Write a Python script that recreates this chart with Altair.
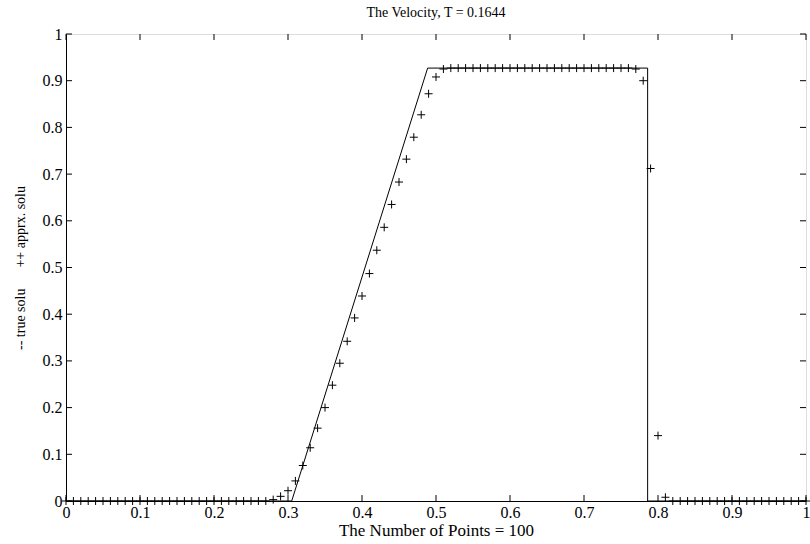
import altair as alt
import pandas as pd

# approximate solution (markers), x = 0, 0.01, ..., 1.00
approx_x = [round(i * 0.01, 2) for i in range(101)]
approx_y = [
    0.0, 0.0, 0.0, 0.0, 0.0, 0.0, 0.0, 0.0, 0.0, 0.0,
    0.0, 0.0, 0.0, 0.0, 0.0, 0.0, 0.0, 0.0, 0.0, 0.0,
    0.0, 0.0, 0.0, 0.0, 0.0, 0.0, 0.0, 0.0,
    0.003, 0.010, 0.022, 0.043, 0.076, 0.114, 0.156, 0.200, 0.248, 0.295,
    0.342, 0.392, 0.439, 0.487, 0.537, 0.586, 0.635, 0.683, 0.732, 0.779,
    0.827, 0.872, 0.908, 0.925,
    0.927, 0.927, 0.927, 0.927, 0.927, 0.927, 0.927, 0.927, 0.927, 0.927,
    0.927, 0.927, 0.927, 0.927, 0.927, 0.927, 0.927, 0.927, 0.927, 0.927,
    0.927, 0.927, 0.927, 0.927, 0.927,
    0.925, 0.900, 0.712, 0.140, 0.008,
    0.0, 0.0, 0.0, 0.0, 0.0, 0.0, 0.0, 0.0, 0.0, 0.0,
    0.0, 0.0, 0.0, 0.0, 0.0, 0.0, 0.0, 0.0, 0.0,
]

# true solution (line)
true_x = [0.0, 0.305, 0.4887, 0.786, 0.786, 1.0]
true_y = [0.0, 0.0, 0.927, 0.927, 0.0, 0.0]

tick_values = [0.0, 0.1, 0.2, 0.3, 0.4, 0.5, 0.6, 0.7, 0.8, 0.9, 1.0]

W, H = 740, 467
FONT = "Liberation Serif"

approx_df = pd.DataFrame({"x": approx_x, "y": approx_y})
true_df = pd.DataFrame({"x": true_x, "y": true_y, "order": list(range(len(true_x)))})
ticks_df = pd.DataFrame({"t": tick_values})

xscale = alt.Scale(domain=[0, 1], nice=False, zero=False)
yscale = alt.Scale(domain=[0, 1], nice=False, zero=False)

NB = "\u00a0"
XTITLE = "The Number of Points = 100"
YTITLE = "-- true solu" + NB * 6 + "++ apprx. solu"

xaxis = alt.Axis(
    values=tick_values, format="~g", ticks=False, grid=False,
    labelFont=FONT, labelFontSize=16, labelColor="black", labelPadding=3,
    title=XTITLE, titleFont=FONT, titleFontSize=17,
    titleFontWeight="normal", titleColor="black", titlePadding=2,
    domainColor="black", labelFlush=False,
)
yaxis = alt.Axis(
    values=tick_values, format="~g", ticks=False, grid=False,
    labelFont=FONT, labelFontSize=16, labelColor="black", labelPadding=4,
    title=YTITLE, titleFont=FONT, titleFontSize=14,
    titleFontWeight="normal", titleColor="black",
    titleX=-46, titleY=H / 2, titleBaseline="middle", titleAlign="center",
    domainColor="black", labelFlush=False,
)

plus = "M-1,0L1,0M0,-1L0,1"

line = alt.Chart(true_df).mark_line(color="black", strokeWidth=1).encode(
    x=alt.X("x:Q", scale=xscale, axis=xaxis, title=XTITLE),
    y=alt.Y("y:Q", scale=yscale, axis=yaxis, title=YTITLE),
    order="order:O",
)

points = alt.Chart(approx_df).mark_point(
    shape=plus, size=64, filled=False, color="black", strokeWidth=1, opacity=1
).encode(
    x=alt.X("x:Q", scale=xscale, axis=xaxis, title=XTITLE),
    y=alt.Y("y:Q", scale=yscale, axis=yaxis, title=YTITLE),
)

TL = 6
bottom_ticks = alt.Chart(ticks_df).mark_rule(color="black", strokeWidth=1).encode(
    x=alt.X("t:Q", scale=xscale, axis=xaxis, title=XTITLE),
    y=alt.value(H), y2=alt.value(H - TL),
)
top_ticks = alt.Chart(ticks_df).mark_rule(color="black", strokeWidth=1).encode(
    x=alt.X("t:Q", scale=xscale, axis=xaxis, title=XTITLE),
    y=alt.value(0), y2=alt.value(TL),
)
left_ticks = alt.Chart(ticks_df).mark_rule(color="black", strokeWidth=1).encode(
    y=alt.Y("t:Q", scale=yscale, axis=yaxis, title=YTITLE),
    x=alt.value(0), x2=alt.value(TL),
)
right_ticks = alt.Chart(ticks_df).mark_rule(color="black", strokeWidth=1).encode(
    y=alt.Y("t:Q", scale=yscale, axis=yaxis, title=YTITLE),
    x=alt.value(W), x2=alt.value(W - TL),
)

chart = alt.layer(
    line, points, bottom_ticks, top_ticks, left_ticks, right_ticks
).properties(
    width=W, height=H,
    title=alt.TitleParams(
        "The Velocity, T = 0.1644", font=FONT, fontSize=14, fontWeight="normal",
        color="black", anchor="middle", offset=6,
    ),
    autosize=alt.AutoSizeParams(type="none"),
    padding={"left": 66, "top": 34, "right": 4, "bottom": 43},
).configure_view(
    stroke="#000000", strokeWidth=1
).configure(background="white")

chart.save("out.html", embed_options={"renderer": "svg", "actions": False})
